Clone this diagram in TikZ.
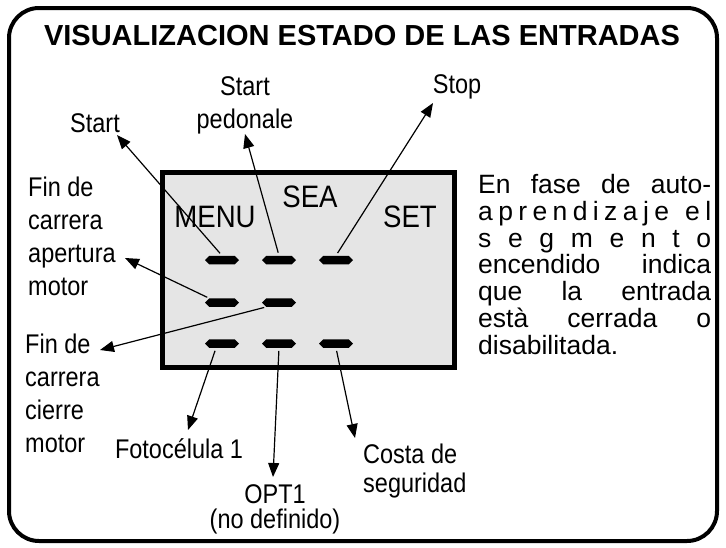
\documentclass[tikz,border=0pt]{standalone}
\usepackage{fontspec}
\setmainfont{Liberation Sans}
\newfontfamily\lblfont[FakeStretch=0.87]{Liberation Sans}
\newfontfamily\dispfont[FakeStretch=0.89]{Liberation Sans}
\usetikzlibrary{arrows.meta,shapes.symbols,calc}
\begin{document}
\begin{tikzpicture}[x=1pt,y=-1pt,
  lbl/.style={font=\lblfont\fontsize{27}{30}\selectfont, inner sep=0pt, anchor=base},
  lblw/.style={lbl, anchor=base west},
  disp/.style={font=\dispfont\fontsize{31}{33}\selectfont, inner sep=0pt, anchor=base},
  seg/.style={signal, signal to=east and west, signal pointer angle=90, fill=black, draw=none, inner sep=0pt, minimum width=34pt, minimum height=8.5pt},
  arr/.style={line width=1.2pt, -{Triangle[length=14pt,width=11pt]}},
  rtext/.style={font=\fontsize{26.5}{27}\selectfont, inner sep=0pt, anchor=base west}]
\useasboundingbox (0,0) rectangle (726,547);
\draw[line width=4pt, rounded corners=30pt] (9,8) rectangle (717,541);
\node[font=\fontsize{29}{31}\selectfont\bfseries, inner sep=0pt, anchor=base] (title) at (362,45) {VISUALIZACION ESTADO DE LAS ENTRADAS};
% display
\node[draw, line width=4.5pt, fill=gray!20, minimum width=292.4pt, minimum height=195.4pt, inner sep=0pt] (display) at (308.5,270) {};
\node[disp] (menu) at (215,227) {MENU};
\node[disp] (sea) at (310,207) {SEA};
\node[disp] (set) at (410,227) {SET};
% segments
\node[seg] (s11) at (222,260) {};
\node[seg] (s12) at (279,260) {};
\node[seg] (s13) at (336,260) {};
\node[seg] (s21) at (222,302.5) {};
\node[seg] (s22) at (279,302.5) {};
\node[seg] (s31) at (222,343.5) {};
\node[seg] (s32) at (279,343.5) {};
\node[seg] (s33) at (336,343.5) {};
% labels
\node[lbl] (start) at (95,132) {Start};
\node[lbl] (sped1) at (245,95) {Start};
\node[lbl] (sped2) at (245,128) {pedonale};
\node[lbl] (stop) at (457,93) {Stop};
\node[lblw] (fina1) at (28,196) {Fin de};
\node[lblw] (fina2) at (28,229) {carrera};
\node[lblw] (fina3) at (28,262) {apertura};
\node[lblw] (fina4) at (28,295) {motor};
\node[lblw] (finc1) at (25,353) {Fin de};
\node[lblw] (finc2) at (25,386) {carrera};
\node[lblw] (finc3) at (25,419) {cierre};
\node[lblw] (finc4) at (25,452) {motor};
\node[lbl] (foto) at (179,458) {Fotocélula 1};
\node[lbl] (opt1) at (275,503) {OPT1};
\node[lbl] (opt2) at (275,528) {(no definido)};
\node[lblw] (costa1) at (363,463) {Costa de};
\node[lblw] (costa2) at (363,492) {seguridad};
% arrow tips
\coordinate (tstart) at (117,135);
\coordinate (tsped) at (245,134);
\coordinate (tstop) at (433,103);
\coordinate (tfina) at (125,258);
\coordinate (tfinc) at (100,350);
\coordinate (tfoto) at (188,430);
\coordinate (topt) at (273,477);
\coordinate (tcosta) at (355,438);
% arrows
\draw[arr, shorten <=3pt] (s11.north) -- (tstart);
\draw[arr, shorten <=3pt] (s12.north) -- (tsped);
\draw[arr, shorten <=3pt] (s13.north) -- (tstop);
\draw[arr, shorten <=2pt] (s21.north west) -- (tfina);
\draw[arr, shorten <=2pt] (s22.south west) -- (tfinc);
\draw[arr, shorten <=3pt] ($(s31.south)+(-6,0)$) -- (tfoto);
\draw[arr, shorten <=3pt] (s32.south) -- (topt);
\draw[arr, shorten <=3pt] (s33.south) -- (tcosta);
% right text
\node[rtext] (r1) at (478,193) {\makebox[233pt][s]{En\hfill fase\hfill de\hfill auto-}};
\node[rtext] (r2) at (478,220) {\makebox[233pt][s]{a\hfill p\hfill r\hfill e\hfill n\hfill d\hfill i\hfill z\hfill a\hfill j\hfill e\hfill\hfill\hfill e\hfill l}};
\node[rtext] (r3) at (478,247) {\makebox[233pt][s]{s\hfill e\hfill g\hfill m\hfill e\hfill n\hfill t\hfill o}};
\node[rtext] (r4) at (478,273) {\makebox[233pt][s]{encendido\hfill indica}};
\node[rtext] (r5) at (478,300) {\makebox[233pt][s]{que\hfill la\hfill entrada}};
\node[rtext] (r6) at (478,327) {\makebox[233pt][s]{està\hfill cerrada\hfill o}};
\node[rtext] (r7) at (478,354) {disabilitada.};
\end{tikzpicture}
\end{document}
